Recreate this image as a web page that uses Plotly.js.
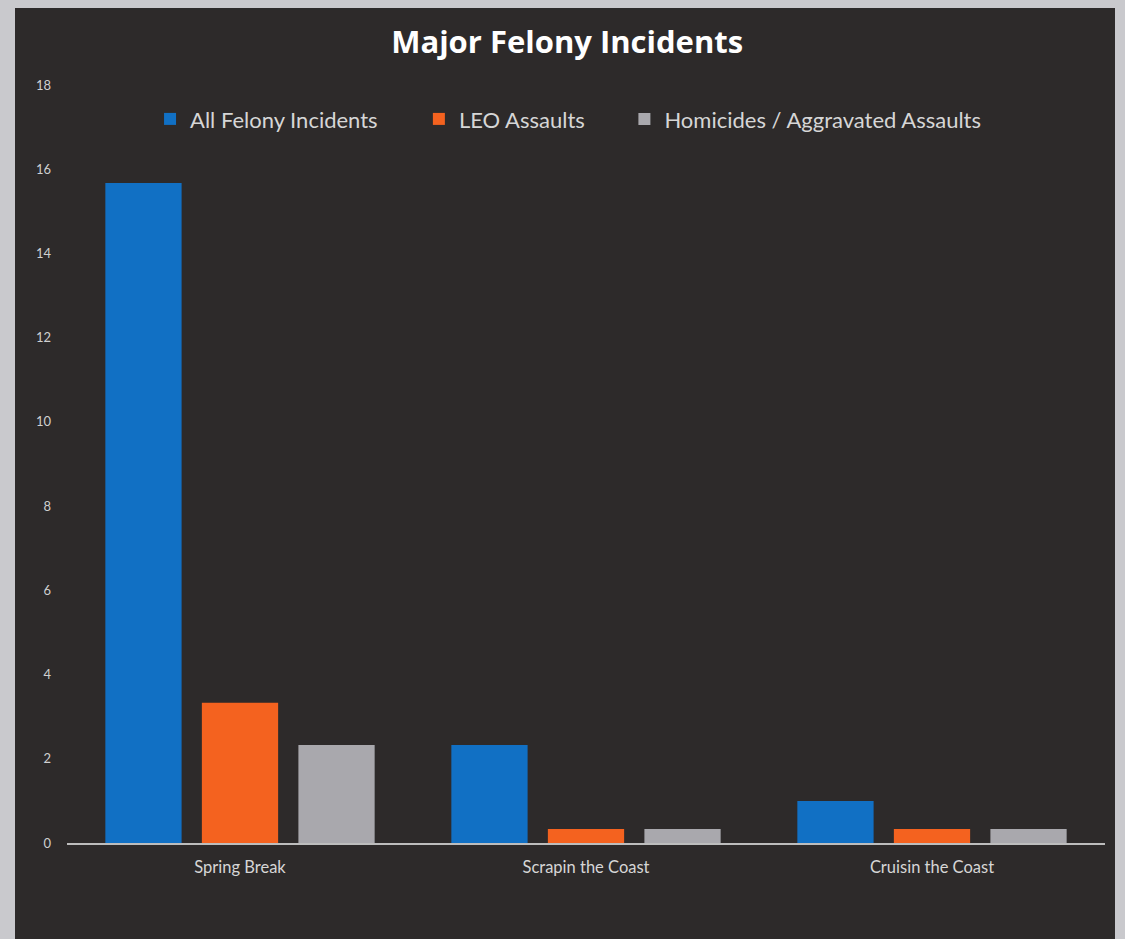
<!DOCTYPE html>
<html>
<head>
<meta charset="utf-8">
<script src="https://cdn.plot.ly/plotly-3.0.1.min.js"></script>
<style>
  html, body { margin: 0; padding: 0; background: #c9c9cd; width: 1125px; height: 939px; overflow: hidden; }
  #chart { position: absolute; left: 15px; top: 8px; width: 1100px; height: 931px; }
</style>
</head>
<body>
<div id="chart"></div>
<script>
const categories = ["Spring Break", "Scrapin the Coast", "Cruisin the Coast"];
const seriesNames = ["All Felony Incidents", "LEO Assaults", "Homicides / Aggravated Assaults"];
const allFelony = [15.67, 2.33, 1.0];
const leoAssaults = [3.33, 0.33, 0.33];
const homicides = [2.33, 0.33, 0.33];
const yTicks = [0, 2, 4, 6, 8, 10, 12, 14, 16, 18];
const colors = ["#1170c4", "#f4621f", "#a9a8ad"];

const legendIds = ["legend", "legend2", "legend3"];
const legendX = [0.080, 0.339, 0.537];

const values = [allFelony, leoAssaults, homicides];
const traces = values.map((v, i) => ({
  type: "bar",
  name: seriesNames[i],
  x: categories,
  y: v,
  legend: legendIds[i],
  showlegend: true,
  marker: { color: colors[i] },
  hoverinfo: "x+y+name"
}));

const legendBase = (x) => ({
  visible: true,
  orientation: "h",
  x: x, xanchor: "left",
  y: 0.955, yanchor: "middle",
  font: { size: 22, color: "#d6d6d6" },
  bgcolor: "rgba(0,0,0,0)",
  itemwidth: 30
});

const layout = {
  width: 1100,
  height: 931,
  showlegend: true,
  paper_bgcolor: "#2d2a2a",
  plot_bgcolor: "rgba(0,0,0,0)",
  margin: { l: 52, r: 10, t: 77, b: 96 },
  barmode: "group",
  bargap: 0.163,
  bargroupgap: 0.21,
  font: { family: "Lato, 'Open Sans', sans-serif", color: "#d6d6d6" },
  title: {
    text: "<b>Major Felony Incidents</b>",
    font: { size: 31, color: "#ffffff", family: "'Open Sans', Lato, sans-serif" },
    x: 0.502, xanchor: "center",
    y: 0.9635, yanchor: "middle"
  },
  legend: legendBase(legendX[0]),
  legend2: legendBase(legendX[1]),
  legend3: legendBase(legendX[2]),
  xaxis: {
    type: "category",
    showline: true,
    linecolor: "#bdbdbd",
    linewidth: 2,
    showgrid: false,
    zeroline: false,
    ticks: "",
    tickfont: { size: 16.5, color: "#d6d6d6" },
    ticklabelstandoff: 8
  },
  yaxis: {
    range: [0, 18],
    tickvals: yTicks,
    ticktext: yTicks.map(String),
    showgrid: false,
    zeroline: false,
    showline: false,
    ticks: "",
    tickfont: { size: 13, color: "#d0d0d0" },
    ticklabelstandoff: 15
  }
};

Plotly.newPlot("chart", traces, layout, { displayModeBar: false, staticPlot: true });
</script>
</body>
</html>
